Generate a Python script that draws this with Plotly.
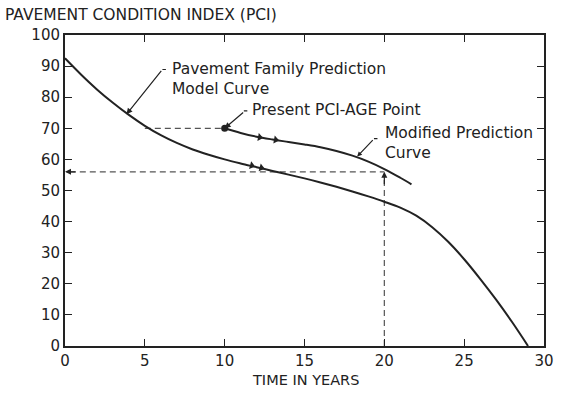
import plotly.graph_objects as go

# ---- data ----
family_years = list(range(0, 30))
family_pci = [92.5, 87.3, 82.5, 78.2, 74.3, 70.8, 67.8, 65.3, 63.2, 61.5,
              60.0, 58.7, 57.5, 56.3, 55.1, 53.9, 52.6, 51.2, 49.7, 48.1,
              46.4, 44.5, 41.9, 38.2, 33.5, 27.9, 21.6, 14.9, 7.7, 0]

modified_years = [10, 11, 12, 13, 14, 15, 16, 17, 18, 19, 20, 21, 21.7]
modified_pci = [70, 68.5, 67.3, 66.4, 65.6, 64.8, 63.9, 62.7, 61.2, 59.3, 56.9, 54.1, 52]

present_age = 10
present_pci = 70
match_age_on_family = 5.0
projection_age = 20
projection_pci = 56

family_arrow_years = [11.7, 12.3]
family_arrow_pci = [58.0, 57.3]
modified_arrow_years = [12.2, 13.2]
modified_arrow_pci = [67.1, 66.3]

x_ticks = [0, 5, 10, 15, 20, 25, 30]
y_ticks = [0, 10, 20, 30, 40, 50, 60, 70, 80, 90, 100]
y_tick_text = ["0", "10", "20", "30", "40", "50", "60", "70", "80", "90", "100"]

label_texts = ["Pavement Family Prediction<br>Model Curve",
               "Present PCI-AGE Point",
               "Modified Prediction<br>Curve"]
label_x = [6.57, 11.58, 19.93]
label_y = [85.9, 75.9, 65.3]

INK = "#222222"
FONT = "DejaVu Sans"
LABEL_SIZE = 15.5

fig = go.Figure()

dash_style = dict(color="#555", width=1.2, dash="6px,4px")
# dashed guide lines
fig.add_trace(go.Scatter(x=[match_age_on_family, present_age], y=[present_pci, present_pci],
                         mode="lines", line=dash_style, showlegend=False, hoverinfo="skip"))
fig.add_trace(go.Scatter(x=[0.3, projection_age], y=[projection_pci, projection_pci],
                         mode="lines", line=dash_style, showlegend=False, hoverinfo="skip"))
fig.add_trace(go.Scatter(x=[projection_age, projection_age], y=[0, projection_pci - 1],
                         mode="lines", line=dash_style, showlegend=False, hoverinfo="skip"))

# curves
fig.add_trace(go.Scatter(x=family_years, y=family_pci, mode="lines",
                         line=dict(color=INK, width=2, shape="spline", smoothing=1),
                         showlegend=False, hoverinfo="skip"))
fig.add_trace(go.Scatter(x=modified_years, y=modified_pci, mode="lines",
                         line=dict(color=INK, width=2, shape="spline", smoothing=1),
                         showlegend=False, hoverinfo="skip"))

# present point
fig.add_trace(go.Scatter(x=[present_age], y=[present_pci], mode="markers",
                         marker=dict(color=INK, size=7), showlegend=False, hoverinfo="skip"))

# direction arrowheads on curves
fig.add_trace(go.Scatter(x=family_arrow_years, y=family_arrow_pci, mode="markers",
                         marker=dict(symbol="triangle-right", color=INK, size=7, angle=15),
                         showlegend=False, hoverinfo="skip"))
fig.add_trace(go.Scatter(x=modified_arrow_years, y=modified_arrow_pci, mode="markers",
                         marker=dict(symbol="triangle-right", color=INK, size=7, angle=10),
                         showlegend=False, hoverinfo="skip"))

lead = dict(showarrow=True, arrowsize=1, arrowwidth=1.2, arrowcolor=INK, text="")
annotations = [
    # arrowhead at y axis on dashed line
    dict(x=0, y=projection_pci, ax=12, ay=0, arrowhead=2, **lead),
    # arrowhead up on vertical dashed line
    dict(x=projection_age, y=projection_pci, ax=0, ay=14, arrowhead=2, **lead),
    # Pavement family leader (diagonal + small hook)
    dict(x=3.85, y=74.5, ax=36, ay=-45, arrowhead=2, **lead),
    dict(x=6.1, y=88.9, ax=5, ay=0, arrowhead=0, **lead),
    # Present point leader
    dict(x=present_age, y=present_pci, ax=20, ay=-17, arrowhead=2, **lead),
    dict(x=11.2, y=75.6, ax=5, ay=0, arrowhead=0, **lead),
    # Modified curve leader
    dict(x=18.3, y=60.9, ax=17, ay=-18, arrowhead=2, arrowsize=0.8, showarrow=True,
         arrowwidth=1.2, arrowcolor=INK, text=""),
    dict(x=19.35, y=66.7, ax=5, ay=0, arrowhead=0, **lead),
    # x axis title
    dict(x=0.503, y=0, xref="paper", yref="paper", yshift=-34, text="TIME IN YEARS",
         showarrow=False, xanchor="center", yanchor="middle",
         font=dict(family=FONT, size=14.5, color=INK)),
]
for txt, lx, ly in zip(label_texts, label_x, label_y):
    annotations.append(dict(x=lx, y=ly, text=txt, showarrow=False, xanchor="left",
                            yanchor="middle", align="left",
                            font=dict(family=FONT, size=LABEL_SIZE, color=INK)))

fig.update_layout(
    width=563, height=393,
    margin=dict(l=65, r=19, t=35, b=47, autoexpand=False),
    paper_bgcolor="white", plot_bgcolor="white",
    font=dict(family=FONT, size=14, color=INK),
    title=dict(text="PAVEMENT CONDITION INDEX (PCI)", x=5 / 563, xref="container",
               xanchor="left", y=1 - 15 / 393, yref="container", yanchor="middle",
               font=dict(family=FONT, size=15.5, color=INK)),
    annotations=annotations,
    showlegend=False,
)

fig.update_xaxes(range=[0, 30], tickvals=x_ticks, ticks="inside", ticklen=7, tickwidth=1,
                 tickcolor=INK, showline=True, linecolor=INK, linewidth=2, mirror="ticks",
                 showgrid=False, zeroline=False, automargin=False,
                 tickfont=dict(family=FONT, size=15, color=INK))
fig.update_yaxes(range=[0, 100], tickvals=y_ticks, ticktext=y_tick_text, ticks="inside",
                 ticklen=7, tickwidth=1, tickcolor=INK, showline=True, linecolor=INK,
                 linewidth=2, mirror="ticks", showgrid=False, zeroline=False, automargin=False,
                 tickfont=dict(family=FONT, size=15, color=INK))

fig.write_html("out.html")
